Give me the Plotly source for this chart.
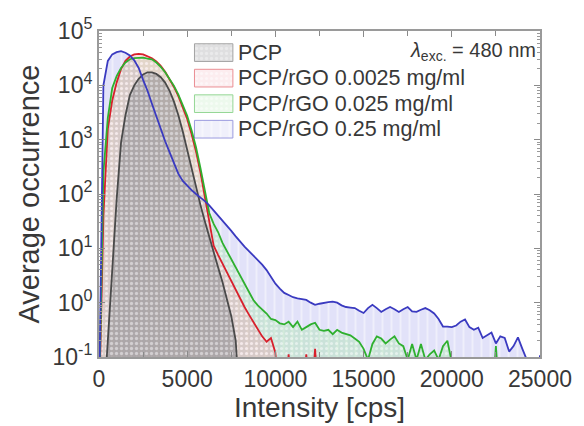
import plotly.graph_objects as go

# ---------------- data ----------------
# histogram bin centres, cps
intensity_cps = list(range(0, 25001, 250))

# log10(average occurrence) per bin; -2 means "below the axis" (empty bin)
pcp_log10 = [
    -2, -2, -0.7, 0.6, 1.9, 2.95, 3.45, 3.82, 4.0, 4.12,
    4.2, 4.24, 4.24, 4.21, 4.15, 4.05, 3.9, 3.7, 3.45, 3.15,
    2.8, 2.45, 2.15, 1.8, 1.5, 1.2, 0.92, 0.65, 0.38, 0.08,
    -0.25, -0.7, -2, -2, -2, -2, -2, -2, -2, -2,
    -2, -2, -2, -2, -2, -2, -2, -2, -2, -2,
    -2, -2, -2, -2, -2, -2, -2, -2, -2, -2,
    -2, -2, -2, -2, -2, -2, -2, -2, -2, -2,
    -2, -2, -2, -2, -2, -2, -2, -2, -2, -2,
    -2, -2, -2, -2, -2, -2, -2, -2, -2, -2,
    -2, -2, -2, -2, -2, -2, -2, -2, -2, -2,
    -2,
]
rgo_00025_log10 = [
    -2, 1.6, 3.2, 3.72, 4.05, 4.3, 4.45, 4.53, 4.57, 4.58,
    4.57, 4.54, 4.5, 4.44, 4.36, 4.25, 4.12, 3.97, 3.8, 3.6,
    3.38, 3.1, 2.78, 2.4, 1.95, 1.45, 1.05, 0.88, 0.72, 0.55,
    0.38, 0.22, 0.08, -0.08, -0.22, -0.35, -0.5, -0.62, -0.72, -0.65,
    -0.92, -2, -2, -0.95, -2, -2, -2, -0.95, -2, -0.85,
    -2, -2, -2, -2, -2, -2, -2, -2, -2, -2,
    -2, -2, -2, -2, -2, -2, -2, -2, -2, -2,
    -2, -2, -2, -2, -2, -2, -2, -2, -2, -2,
    -2, -2, -2, -2, -2, -2, -2, -2, -2, -2,
    -2, -2, -2, -2, -2, -2, -2, -2, -2, -2,
    -2,
]
rgo_0025_log10 = [
    -2, 2.4, 3.4, 3.95, 4.17, 4.32, 4.42, 4.48, 4.5, 4.51,
    4.51, 4.49, 4.48, 4.42, 4.34, 4.24, 4.12, 3.99, 3.83, 3.65,
    3.44, 3.17, 2.86, 2.48, 2.05, 1.65, 1.45, 1.3, 1.1, 0.95,
    0.8, 0.65, 0.5, 0.35, 0.2, 0.05, -0.05, -0.12, -0.2, -0.3,
    -0.32, -0.38, -0.4, -0.35, -0.45, -0.35, -0.5, -0.45, -0.4, -0.37,
    -0.5, -0.52, -0.5, -0.58, -0.5, -0.55, -0.58, -0.6, -0.66, -0.72,
    -0.85, -1.05, -0.76, -0.62, -0.66, -0.75, -0.68, -0.62, -0.75, -0.8,
    -1.05, -0.76, -1.05, -0.76, -1.05, -0.95, -0.88, -1.05, -0.8, -0.7,
    -1.1, -2, -2, -2, -2, -2, -2, -2, -2, -2,
    -0.8, -2, -2, -2, -2, -2, -2, -2, -2, -2,
    -2,
]
rgo_025_log10 = [
    -2, 4.0, 4.45, 4.57, 4.61, 4.63, 4.6, 4.55, 4.46, 4.32,
    4.1, 3.9, 3.66, 3.42, 3.18, 2.97, 2.77, 2.56, 2.37, 2.24,
    2.15, 2.07, 2.0, 1.94, 1.87, 1.79, 1.7, 1.6, 1.5, 1.42,
    1.32, 1.22, 1.12, 1.03, 0.95, 0.87, 0.78, 0.7, 0.6, 0.48,
    0.35, 0.26, 0.18, 0.14, 0.1, 0.08, 0.06, 0.05, 0.0, -0.04,
    -0.02, 0.0, 0.01, 0.02, 0.0, -0.05, -0.08, -0.09, -0.1, -0.15,
    -0.19, -0.1, -0.04, -0.1, -0.17, -0.12, -0.08, -0.12, -0.17, -0.12,
    -0.08, -0.16, -0.17, -0.13, -0.1, -0.14, -0.2, -0.3, -0.44, -0.44,
    -0.45, -0.42, -0.35, -0.31, -0.45, -0.5, -0.46, -0.65, -0.6, -0.55,
    -0.75, -0.62, -0.65, -0.9, -0.8, -0.64, -0.85, -1.05, -2, -2,
    -0.97,
]

series_names = ["PCP", "PCP/rGO 0.0025 mg/ml", "PCP/rGO 0.025 mg/ml", "PCP/rGO 0.25 mg/ml"]
x_tick_vals = [0, 5000, 10000, 15000, 20000, 25000]
y_tick_vals = [0.1, 1, 10, 100, 1000, 10000, 100000]
y_tick_text = ["10<sup>-1</sup>", "10<sup>0</sup>", "10<sup>1</sup>", "10<sup>2</sup>",
               "10<sup>3</sup>", "10<sup>4</sup>", "10<sup>5</sup>"]

# ---------------- styles ----------------
FONT = "Arial, Liberation Sans, Helvetica, sans-serif"
TXT = "#383838"
styles = {
    "PCP": dict(line="#4a4a4a", bg="rgba(135,135,140,0.52)", shape=".", fg="white", fgop=0.35, size=5, sol=0.35),
    "PCP/rGO 0.0025 mg/ml": dict(line="#d8202c", bg="rgba(240,150,165,0.33)", shape=".", fg="white", fgop=0.5, size=5, sol=0.3),
    "PCP/rGO 0.025 mg/ml": dict(line="#2fb02f", bg="rgba(150,225,150,0.33)", shape=".", fg="white", fgop=0.5, size=5, sol=0.3),
    "PCP/rGO 0.25 mg/ml": dict(line="#3a3ac0", bg="rgba(175,175,240,0.36)", shape="|", fg="white", fgop=0.45, size=9, sol=0.2),
}
data_map = {
    "PCP": pcp_log10,
    "PCP/rGO 0.0025 mg/ml": rgo_00025_log10,
    "PCP/rGO 0.025 mg/ml": rgo_0025_log10,
    "PCP/rGO 0.25 mg/ml": rgo_025_log10,
}

fig = go.Figure()

draw_order = ["PCP/rGO 0.25 mg/ml", "PCP/rGO 0.025 mg/ml", "PCP/rGO 0.0025 mg/ml", "PCP"]
for name in draw_order:
    s = styles[name]
    yv = [10 ** v for v in data_map[name]]
    fig.add_trace(go.Scatter(
        x=intensity_cps, y=yv, mode="none", fill="tozeroy",
        fillcolor=s["bg"],
        fillpattern=dict(shape=s["shape"], bgcolor=s["bg"], fgcolor=s["fg"],
                         fgopacity=s["fgop"], size=s["size"], solidity=s["sol"]),
        showlegend=False, hoverinfo="skip"))

for name in ["PCP", "PCP/rGO 0.0025 mg/ml", "PCP/rGO 0.025 mg/ml", "PCP/rGO 0.25 mg/ml"]:
    s = styles[name]
    yv = [10 ** v for v in data_map[name]]
    fig.add_trace(go.Scatter(
        x=intensity_cps, y=yv, mode="lines", name=name,
        line=dict(color=s["line"], width=1.8), showlegend=False))

# ---------------- manual legend (patches on an overlay axis) ----------------
L, R, T, B = 99, 547, 31, 363
def fx(px):
    return (px - L) / (R - L)
def fy(py):
    return (B - py) / (B - T)

row_centres = [53, 79, 105, 131]
for name, yc in zip(series_names, row_centres):
    s = styles[name]
    x0, x1 = fx(196), fx(235)
    y0, y1 = fy(yc + 9), fy(yc - 9)
    fig.add_trace(go.Scatter(
        x=[x0, x1, x1, x0, x0], y=[y0, y0, y1, y1, y0],
        xaxis="x2", yaxis="y2", mode="lines", fill="toself",
        line=dict(color=s["line"], width=1),
        opacity=0.5,
        fillcolor=s["bg"],
        fillpattern=dict(shape=s["shape"], bgcolor=s["bg"], fgcolor=s["fg"],
                         fgopacity=s["fgop"], size=s["size"], solidity=s["sol"]),
        showlegend=False, hoverinfo="skip"))
    fig.add_annotation(x=fx(238), y=fy(yc), xref="paper", yref="paper",
                       text=name, showarrow=False, xanchor="left", yanchor="middle",
                       font=dict(family=FONT, size=21.5, color=TXT))

fig.add_annotation(x=fx(545), y=fy(52), xref="paper", yref="paper",
                   text="<i>λ</i><sub>exc.</sub> = 480 nm", showarrow=False,
                   xanchor="right", yanchor="middle",
                   font=dict(family=FONT, size=20, color=TXT))

axis_common = dict(showline=True, linecolor="#9a9a9a", linewidth=2, mirror="ticks",
                   ticks="inside", tickcolor="#8a8a8a", showgrid=False, zeroline=False)

minor_y = [m * 10 ** e for e in range(-1, 5) for m in range(2, 10)]

fig.update_layout(
    width=584, height=426,
    margin=dict(l=L, r=584 - R, t=T, b=426 - B),
    paper_bgcolor="white", plot_bgcolor="white",
    showlegend=False,
    font=dict(family=FONT, color=TXT),
    xaxis=dict(range=[0, 25000], tickmode="array", tickvals=x_tick_vals,
               ticktext=[str(v) for v in x_tick_vals], ticklen=6,
               tickfont=dict(size=23, color=TXT),
               minor=dict(dtick=2500, tick0=0, ticks="inside", ticklen=5, tickcolor="#8a8a8a"),
               title=dict(text="Intensity [cps]", font=dict(size=28, color=TXT), standoff=3),
               **axis_common),
    yaxis=dict(type="log", range=[-1, 5], tickmode="array", tickvals=y_tick_vals,
               ticktext=y_tick_text, ticklen=6,
               tickfont=dict(size=23, color=TXT),
               minor=dict(tickvals=minor_y, ticks="inside", ticklen=3, tickcolor="#9a9a9a"),
               title=dict(text="Average occurrence", font=dict(size=29, color=TXT), standoff=4),
               **axis_common),
    xaxis2=dict(domain=[0, 1], range=[0, 1], overlaying="x", visible=False, fixedrange=True),
    yaxis2=dict(domain=[0, 1], range=[0, 1], overlaying="y", visible=False, fixedrange=True),
)

fig.write_html("out.html")
